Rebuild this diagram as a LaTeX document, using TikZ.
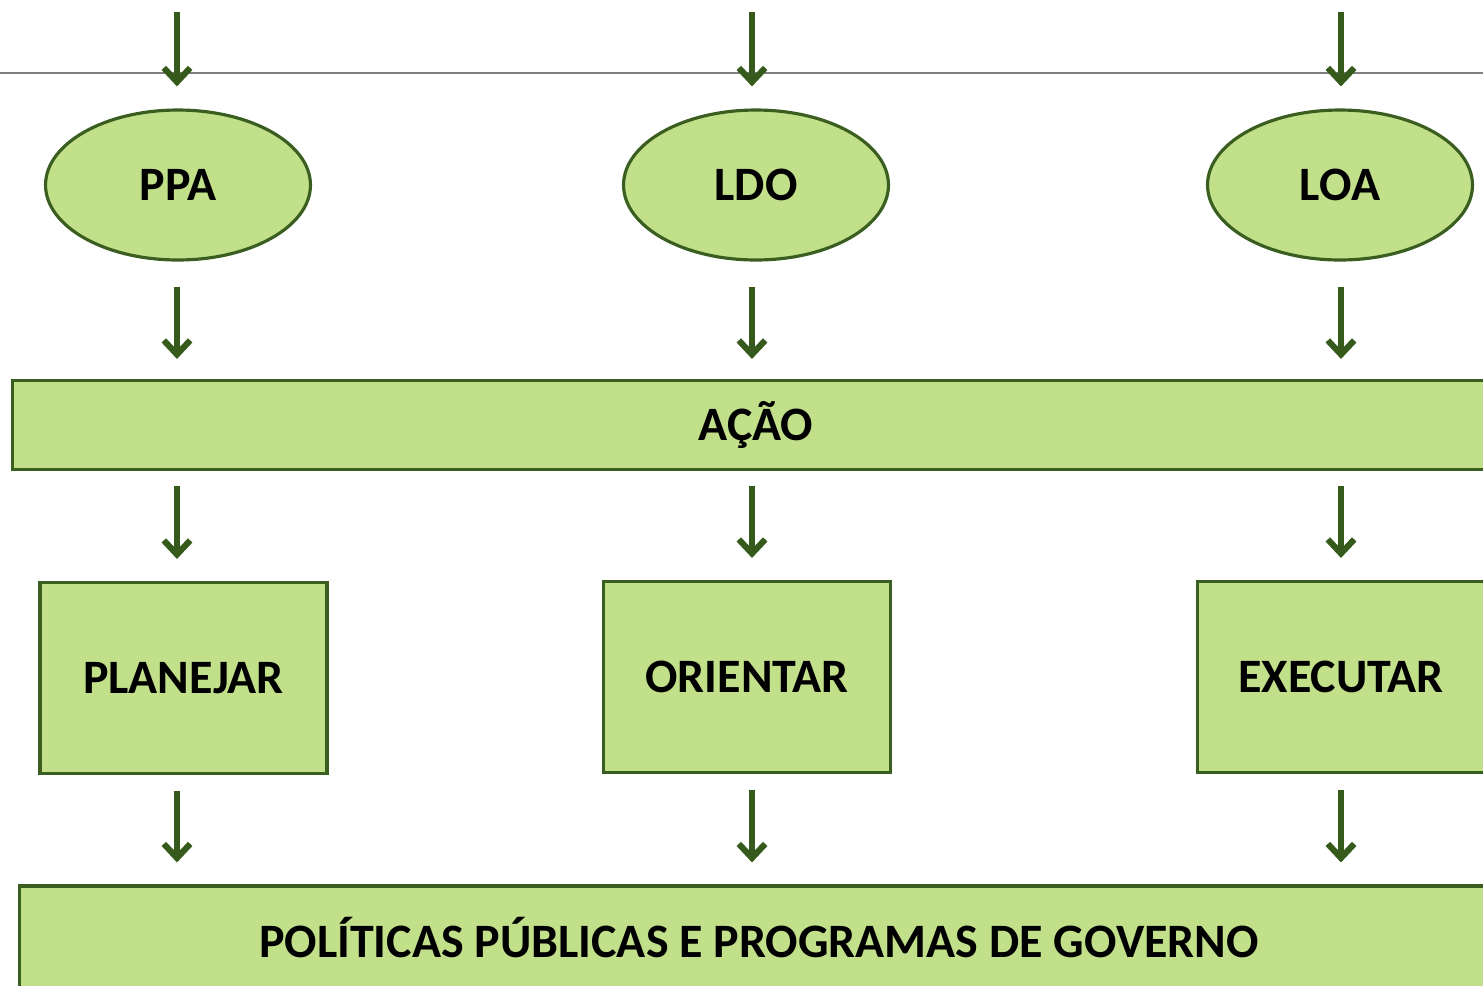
\documentclass[tikz,border=0pt]{standalone}
\usepackage{fontspec}
\setmainfont{Carlito}
\usepackage{tikz}
\usetikzlibrary{arrows.meta,shapes.geometric}
\definecolor{leaf}{HTML}{C2E08A}
\definecolor{moss}{HTML}{3A5E20}
\definecolor{arrowgreen}{HTML}{365A1C}
\tikzset{x=0.02cm, y=-0.02cm, % one unit is one pixel of the layout
flow/.style={draw=arrowgreen, line width=3.5pt, -{Straight Barb[length=8pt,width=15pt]}}, % the short green arrows
phase/.style={ellipse, draw=moss, fill=leaf, line width=1.8pt, minimum width=5.3cm, minimum height=3cm}, % the law ellipses
task/.style={rectangle, draw=moss, fill=leaf, line width=1.8pt, minimum width=5.74cm, minimum height=3.82cm}, % the square boxes
bar/.style={rectangle, draw=moss, fill=leaf, line width=1.8pt}, % the wide bands
font=\fontsize{27.3}{31}\selectfont\bfseries,
}
\begin{document}
\begin{tikzpicture}
\useasboundingbox (0,0) rectangle (1483,985);
\clip (0,0) rectangle (1483,985);
\draw[gray, line width=0.6pt] (0,73) -- (1483,73);

\node[phase] (ppa) at (178,185) {PPA};
\node[phase] (ldo) at (756,185) {LDO};
\node[phase] (loa) at (1340,185) {LOA};

\node[bar, minimum width=29.76cm, minimum height=1.78cm] (acao) at (756,425) {AÇÃO};

\node[task] (plan) at (183.5,678) {PLANEJAR};
\node[task] (orient) at (747,677) {ORIENTAR};
\node[task] (exec) at (1341,677) {EXECUTAR};

\node[bar, minimum width=29.6cm, minimum height=2.08cm] (pol) at (759,938) {POLÍTICAS PÚBLICAS E PROGRAMAS DE GOVERNO};

\coordinate (inA) at (177,12);
\coordinate (inB) at (752,12);
\coordinate (inC) at (1341,12);

\draw[flow, shorten >=0.44cm] (inA) -- (inA |- ppa.north);
\draw[flow, shorten >=0.44cm] (inB) -- (inB |- ldo.north);
\draw[flow, shorten >=0.44cm] (inC) -- (inC |- loa.north);

\foreach \top/\col in {ppa/inA, ldo/inB, loa/inC}
  \draw[flow, shorten <=0.5cm, shorten >=0.4cm] (\col |- \top.south) -- (\col |- acao.north);

\foreach \low/\col in {plan/inA, orient/inB, exec/inC}
{
  \draw[flow, shorten <=0.3cm, shorten >=0.44cm] (\col |- acao.south) -- (\col |- \low.north);
  \draw[flow, shorten <=0.32cm, shorten >=0.44cm] (\col |- \low.south) -- (\col |- pol.north);
}
\end{tikzpicture}
\end{document}
